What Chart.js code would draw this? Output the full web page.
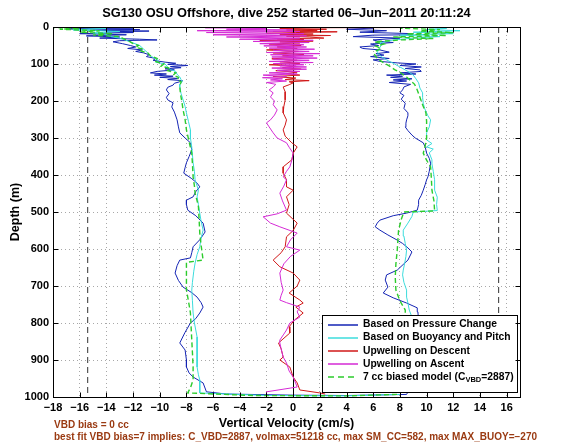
<!DOCTYPE html>
<html lang="en">
<head>
<meta charset="UTF-8">
<title>SG130 OSU Offshore, dive 252</title>
<style>
  html, body { margin: 0; padding: 0; background: #fff; }
  #wrap { width: 561px; height: 442px; }
</style>
</head>
<body>
<div id="wrap"><canvas id="myChart" width="561" height="442"></canvas></div>
<script src="https://cdn.jsdelivr.net/npm/chart.js"></script>
<script>
  // each pair is [depth (m), vertical velocity (cm/s)], descent then ascent
  const pressureChange = [
    [0,-16],[3,-12],[5,-17],[7,-11.5],[9,-15],[11,-10.8],[13,-14],[15,-12],[18,-16],[21,-12.5],
    [24,-15.5],[27,-13],[30,-14.5],[33,-11.5],[35,-10.2],[37,-13],[40,-13.5],[45,-12.8],[50,-12.2],
    [54,-11.8],[58,-12.4],[62,-11.3],[66,-11.8],[70,-11.2],[75,-10.8],[80,-11],[85,-10.3],[90,-10.5],
    [95,-9.6],[98,-8.8],[101,-9.4],[104,-7.9],[107,-9.2],[110,-8.4],[113,-9.6],[116,-8.9],[120,-10.2],
    [124,-10.7],[127,-9.5],[130,-10.4],[133,-9],[136,-10],[139,-8.6],[142,-9.4],[145,-8.3],[148,-8.5],
    [152,-8.9],[157,-9],[163,-9.4],[170,-9.5],[180,-9.3],[190,-9.5],[197,-9.4],[205,-9],[216,-9.1],
    [230,-8.9],[251,-8.7],[270,-8.6],[286,-8.5],[300,-8.1],[313,-7.7],[332,-7.6],[350,-7.8],[367,-8],
    [380,-8.1],[395,-8.2],[410,-7.6],[422,-7.2],[432,-7],[445,-7.3],[459,-7.5],[468,-8],[480,-8],
    [495,-7.9],[510,-7.3],[530,-6.75],[554,-6.6],[575,-7],[594,-7.5],[610,-7.6],[624,-7.7],[630,-8.5],
    [645,-8.7],[665,-8.85],[685,-8.6],[703,-8.25],[718,-7.6],[730,-7.2],[745,-6.9],[757,-6.75],[773,-7],
    [788,-7.3],[800,-7.7],[825,-8.1],[854,-8.5],[873,-8.1],[900,-8],[919,-8],[935,-7.8],[946,-7.5],
    [962,-6.75],[986,-6.5],[992,-5],[995,0],[996,4],[993,8.5],
    [960,9],[900,9.2],[850,9.3],[800,9.4],[770,9.35],[759,9.3],[746,8.5],[732,7.5],[719,6.75],
    [703,7.1],[684,6.9],[670,7],[657,7.8],[640,8.3],[630,8.6],[608,8.9],[597,8.6],[585,8.2],[576,7.8],
    [562,7.1],[549,6.5],[540,6.15],[530,6.3],[522,6.5],[510,7.5],[503,8.5],[495,9.3],[480,9.4],
    [468,9.4],[455,9.6],[441,9.75],[425,9.9],[413,10],[405,10.1],[390,10.2],[368,10.3],[355,10.2],
    [341,10],[325,9.9],[313,9.75],[300,9.15],[292,8.9],[280,8.6],[270,8.4],[260,8.45],[251,8.5],
    [240,8.6],[232,8.6],[220,8.3],[206,8.4],[195,8.1],[185,8.3],[178,8],[170,8.2],[162,8.3],[155,8.8],
    [150,7.2],[146,8.5],[143,7.5],[140,8.9],[136,7.3],[133,8.2],[130,7],[127,9.2],[124,8],[120,9.6],
    [116,9.5],[112,8.4],[108,9.6],[104,8],[100,9.2],[97,7.8],[93,6.5],[89,6],[85,7.2],[80,5.8],
    [76,6.8],[72,6.2],[68,7.2],[62,6.5],[58,5.2],[54,5],[50,6.4],[46,5.8],[42,7.5],[38,6.3],[35,6],
    [30,8],[26,4.5],[22,6],[21,8.9],[18,9],[14,5],[10,7],[6,4],[3,6],[0,5]
  ];
  const buoyancyPitch = [
    [0,-17.5],[4,-14],[8,-16.5],[12,-13],[16,-15],[20,-14],[25,-13.8],[30,-13],[35,-12.6],[43,-12],
    [50,-11.5],[60,-11.2],[70,-10.9],[80,-10.6],[90,-10.1],[95,-10.3],[100,-9.6],[108,-9.4],[115,-9.2],
    [120,-8.8],[128,-8.7],[135,-8.5],[142,-8.4],[148,-8.3],[155,-8.5],[162,-8.5],[180,-8.4],[197,-8.25],
    [215,-8.1],[232,-8],[255,-7.85],[278,-7.7],[300,-7.7],[324,-7.6],[345,-7.55],[367,-7.5],[390,-7.4],
    [413,-7.35],[441,-7.1],[459,-7.2],[480,-7.1],[503,-7],[525,-6.9],[549,-6.75],[570,-6.9],[594,-7],
    [615,-7.2],[638,-7.35],[660,-7.45],[690,-7.55],[711,-7.6],[740,-7.55],[773,-7.5],[800,-7.4],
    [838,-7.2],[870,-7.2],[919,-7.2],[940,-7.1],[954,-7],[975,-7],[989,-7],[996,-2],[997,4],[993,8],
    [960,8.6],[900,8.7],[850,8.8],[800,8.9],[784,8.9],[765,8.7],[746,8.6],[730,8.5],[711,8.5],[690,8.3],
    [670,8.2],[657,8.25],[640,8.35],[620,8.45],[603,8.5],[585,8.4],[565,8.3],[549,8.25],[530,8.6],
    [512,8.9],[500,9],[496,10.8],[480,10.75],[460,10.8],[441,10.6],[413,10.6],[390,10.5],[370,10.4],
    [359,10.4],[340,10.2],[330,10.5],[324,10],[315,10.4],[305,10],[286,10],[270,10.2],[251,10.3],
    [240,10.1],[232,10],[220,9.85],[206,9.75],[190,9.7],[178,9.7],[165,9.5],[151,9.4],[140,9.2],
    [130,9],[120,8.6],[108,8],[98,7.5],[89,7],[80,6.6],[70,6.3],[60,6.4],[50,6.6],[43,6.5],[35,7.5],
    [30,9],[26,11],[22,8],[18,12],[14,9],[10,12.5],[7,10],[4,11.5],[0,9]
  ];
  const upwellDescent = [
    [0,0],[0.6,19],[2,1],[4,-1],[6,2.5],[8,-0.5],[10,1.8],[12,-1.5],[13,3.3],[15,0.2],[17,-2],[19,1.5],
    [21,-1],[23,2.8],[25,-0.5],[27,1.2],[30,2.3],[32,-1.2],[34,0.8],[36,-2.5],[38,1.5],[40,-1],
    [43,0.5],[46,-1.8],[50,0.6],[54,-1.2],[58,0.3],[62,-2],[66,0.4],[70,-1.5],[74,0.8],[78,-0.8],
    [82,0.2],[86,-1.6],[90,0.3],[94,-1],[98,0.5],[102,-1.8],[106,0.2],[110,-0.8],[114,0.6],[118,-1.3],
    [122,0.3],[126,-0.5],[130,0.5],[134,-1.5],[138,0.2],[142,-0.6],[145,1.2],[148,-0.3],[151,0],
    [156,-0.3],[162,-0.75],[175,-0.6],[197,-0.6],[215,-0.7],[232,-0.75],[251,-0.5],[265,-0.6],
    [278,-0.75],[295,-0.6],[313,-0.1],[324,0.3],[341,0],[359,-0.1],[378,-0.75],[395,-0.75],[413,-0.5],
    [432,-0.5],[441,0],[459,-0.5],[480,-0.3],[503,-0.5],[530,0.3],[550,0],[567,-0.5],[594,-0.6],
    [610,-0.9],[630,-1.5],[648,-1],[665,0],[684,0.5],[700,0.3],[719,-0.3],[738,0.5],[746,0.75],
    [757,0.2],[773,0.75],[792,0.1],[810,-0.3],[827,-0.25],[854,-1.1],[870,-0.9],[892,-0.75],[900,-1],
    [919,-0.25],[946,0],[962,0.3],[981,0.5],[989,2],[992,2.4]
  ];
  const upwellAscent = [
    [990,-2],[986,-2],[973,0.3],[946,0],[930,-0.3],[908,-0.5],[892,-0.75],[870,-0.9],[854,-1],
    [846,-1],[830,-0.7],[819,-0.5],[800,-0.25],[784,0.5],[770,0.3],[757,0.5],[745,-0.5],[738,-1],
    [725,-0.9],[711,-0.75],[690,-0.9],[665,-1],[640,-0.7],[620,-0.2],[603,0.5],[594,-0.5],[575,-0.2],
    [557,0.3],[540,-1],[530,-1.7],[513,-2.25],[505,-1.2],[495,-0.5],[470,-0.8],[449,-1],[430,-0.7],
    [413,-0.5],[405,-0.75],[390,-0.5],[378,-0.25],[360,-0.1],[341,0],[325,-0.3],[313,-0.5],[300,-1.2],
    [286,-1.5],[270,-1.8],[259,-2],[251,-1.7],[238,-1.4],[224,-1.2],[210,-1.5],[200,-1.4],[189,-1.7],
    [178,-1.5],[170,-1.8],[162,-1.5],[155,-1.3],[150,-2],[146,-0.5],[143,-1.7],[140,-0.8],[137,-2.3],
    [134,-0.5],[130,-2.25],[127,0.3],[124,-1.8],[120,0.5],[117,-1.2],[114,1],[111,-1.6],[108,1],
    [105,-1],[102,0.8],[99,-1.5],[96,1.5],[93,-1.8],[90,1.2],[87,-1.5],[84,1.8],[81,-1.6],[78,1.5],
    [75,-1.7],[72,2],[69,-2],[66,1.2],[63,-1.5],[60,1.6],[57,-1.8],[54,1],[51,-2.2],[48,0.8],[45,-2.5],
    [42,1.2],[39,-3],[36,1.5],[33,-4],[30,0.5],[27,-5],[24,1],[21,-6],[18,0.8],[15,-6.5],[12,0.5],
    [10,-7.2],[8,0],[6,-5],[4,-2],[2,-6.6],[0,-1]
  ];
  const biasedModel = [
    [0,0],[0.5,-19],[3,-16],[6,-17.5],[10,-14.5],[14,-16],[18,-13.5],[22,-15],[26,-13],[30,-12.8],
    [35,-12.5],[40,-12.2],[45,-12],[50,-11.6],[55,-11.8],[60,-11.2],[65,-11.4],[70,-10.9],[78,-10.7],
    [85,-10.2],[92,-10.4],[100,-9.7],[106,-9.9],[112,-9.2],[118,-9.4],[124,-8.8],[130,-9],[136,-8.6],
    [142,-8.7],[148,-8.4],[160,-8.5],[180,-8.45],[200,-8.35],[224,-8.25],[250,-8.1],[278,-8],
    [310,-7.8],[341,-7.6],[370,-7.55],[405,-7.5],[430,-7.4],[449,-7.35],[470,-7.2],[486,-7.1],
    [520,-7.05],[557,-7],[590,-6.9],[630,-6.75],[636,-8],[680,-8],[711,-8],[740,-7.85],[773,-7.7],
    [810,-7.65],[846,-7.6],[880,-7.55],[919,-7.5],[954,-7.5],[975,-7.7],[989,-7.9],[996,-3],[997,4],
    [993,7.8],[960,8.2],[900,8.3],[850,8.4],[800,8.4],[765,8.4],[740,8],[711,7.7],[676,7.65],[640,7.7],
    [603,7.8],[575,7.85],[549,7.9],[520,8.1],[500,8.3],[497,10.6],[470,10.55],[441,10.4],[405,10.35],
    [378,10.3],[360,10],[341,9.75],[320,9.9],[300,10],[278,10],[255,10],[232,9.95],[210,9.7],[190,9.5],
    [170,9.3],[155,9.1],[145,8.8],[135,8.5],[125,8.1],[115,7.6],[105,7.2],[95,6.7],[85,6.3],[75,6.1],
    [65,6.2],[58,6.6],[52,6.2],[46,6.8],[40,6.1],[35,8],[31,10.5],[27,7.5],[23,11.5],[19,8.5],[15,12],
    [11,9.5],[7,11],[3,8],[0,10]
  ];

  const seriesNames = ['Based on Pressure Change', 'Based on Buoyancy and Pitch', 'Upwelling on Descent',
    'Upwelling on Ascent', '7 cc biased model (C'];
  const seriesColors = ['#1424b4', '#3cdcdc', '#d01818', '#d52ad5', '#2ccc2c'];
  const xTicks = [-18, -16, -14, -12, -10, -8, -6, -4, -2, 0, 2, 4, 6, 8, 10, 12, 14, 16];
  const yTicks = [0, 100, 200, 300, 400, 500, 600, 700, 800, 900, 1000];
  const limitLines = [-15.4, 15.4];
  const zeroVelocity = 0;
  const titleText = 'SG130 OSU Offshore, dive 252 started 06\u2013Jun\u20132011 20:11:24';
  const noteLines = ['VBD bias = 0 cc',
    'best fit VBD bias=7 implies: C_VBD=2887, volmax=51218 cc, max SM_CC=582, max MAX_BUOY=\u2212270'];

  function toPoints(pairs) {
    return pairs.map(p => ({ x: p[1], y: p[0] }));
  }

  const profiles = [pressureChange, buoyancyPitch, upwellDescent, upwellAscent, biasedModel];
  const datasets = profiles.map((pairs, i) => ({
    label: seriesNames[i],
    data: toPoints(pairs),
    showLine: true,
    pointRadius: 0,
    borderWidth: i === 4 ? 1.4 : 1,
    borderColor: seriesColors[i],
    borderDash: i === 4 ? [5, 3] : [],
    order: 5 - i
  }));
  limitLines.forEach(v => datasets.push({
    label: '',
    data: [{ x: v, y: 0 }, { x: v, y: 1000 }],
    showLine: true, pointRadius: 0, borderWidth: 1, borderColor: '#333',
    borderDash: [6, 4], order: 10
  }));

  function fmt(v) {
    return v < 0 ? '\u2212' + Math.abs(v) : String(v);
  }

  const frame = {
    id: 'frame',
    beforeDatasetsDraw(chart) {
      // thin zero-velocity reference line, snapped to a pixel so it stays crisp
      const { ctx, chartArea: a, scales: { x } } = chart;
      const px = Math.round(x.getPixelForValue(zeroVelocity)) + 0.5;
      ctx.save();
      ctx.strokeStyle = '#000';
      ctx.lineWidth = 1;
      ctx.beginPath();
      ctx.moveTo(px, a.top);
      ctx.lineTo(px, a.bottom);
      ctx.stroke();
      ctx.restore();
    },
    afterDatasetsDraw(chart) {
      const { ctx, chartArea: a, scales: { x, y } } = chart;
      ctx.save();
      // legend box
      const lw = 195, lh = 77;
      const lx = Math.round(a.right) - 3 - lw, ly = Math.round(a.bottom) - 5 - lh;
      ctx.fillStyle = '#fff';
      ctx.fillRect(lx, ly, lw, lh);
      ctx.strokeStyle = '#000';
      ctx.lineWidth = 1;
      ctx.strokeRect(lx + 0.5, ly + 0.5, lw, lh);
      ctx.font = 'bold 10.3px "Liberation Sans", Arial, sans-serif';
      ctx.textBaseline = 'middle';
      ctx.textAlign = 'left';
      seriesNames.forEach((name, i) => {
        const ry = ly + 9.5 + i * 13.1;
        ctx.strokeStyle = seriesColors[i];
        ctx.lineWidth = 1.5;
        ctx.setLineDash(i === 4 ? [6, 4] : []);
        ctx.beginPath();
        ctx.moveTo(lx + 6, Math.round(ry));
        ctx.lineTo(lx + 36, Math.round(ry));
        ctx.stroke();
        ctx.setLineDash([]);
        ctx.fillStyle = '#000';
        let tx = lx + 41;
        ctx.fillText(name, tx, ry);
        if (i === 4) {
          tx += ctx.measureText(name).width;
          ctx.font = 'bold 7.5px "Liberation Sans", Arial, sans-serif';
          ctx.fillText('VBD', tx, ry + 3);
          tx += ctx.measureText('VBD').width;
          ctx.font = 'bold 10.3px "Liberation Sans", Arial, sans-serif';
          ctx.fillText('=2887)', tx, ry);
        }
      });
      // axes box and inward ticks
      ctx.strokeStyle = '#000';
      ctx.lineWidth = 1;
      const L = Math.round(a.left) + 0.5, R = Math.round(a.right) + 0.5;
      const T = Math.round(a.top) + 0.5, B = Math.round(a.bottom) + 0.5;
      ctx.strokeRect(L, T, R - L, B - T);
      ctx.beginPath();
      xTicks.forEach(v => {
        const px = Math.round(x.getPixelForValue(v)) + 0.5;
        ctx.moveTo(px, B); ctx.lineTo(px, B - 5);
        ctx.moveTo(px, T); ctx.lineTo(px, T + 5);
      });
      yTicks.forEach(v => {
        const py = Math.round(y.getPixelForValue(v)) + 0.5;
        ctx.moveTo(L, py); ctx.lineTo(L + 5, py);
        ctx.moveTo(R, py); ctx.lineTo(R - 5, py);
      });
      ctx.stroke();
      ctx.restore();
    },
    afterDraw(chart) {
      const { ctx, chartArea: a } = chart;
      ctx.save();
      ctx.fillStyle = '#000';
      ctx.textBaseline = 'middle';
      ctx.textAlign = 'center';
      ctx.font = 'bold 12.8px "Liberation Sans", Arial, sans-serif';
      ctx.fillText(titleText, (a.left + a.right) / 2, 13);
      ctx.textAlign = 'left';
      ctx.fillStyle = '#9a3a12';
      ctx.font = 'bold 10px "Liberation Sans", Arial, sans-serif';
      ctx.fillText(noteLines[0], 54, 425);
      ctx.fillText(noteLines[1], 54, 437);
      ctx.restore();
    }
  };

  const ctx = document.getElementById('myChart');
  const myChart = new Chart(ctx, {
    type: 'scatter',
    data: { datasets: datasets },
    options: {
      responsive: false,
      devicePixelRatio: 1,
      animation: false,
      events: [],
      layout: { padding: { top: 27, right: 41, left: 0, bottom: 0 } },
      plugins: { legend: { display: false }, tooltip: { enabled: false }, title: { display: false } },
      scales: {
        x: {
          type: 'linear',
          min: -18, max: 17,
          afterBuildTicks: s => { s.ticks = xTicks.map(v => ({ value: v })); },
          afterFit: s => { s.height = 45; },
          grid: { color: '#a8a8a8', drawTicks: false },
          border: { display: false, dash: [1, 3] },
          ticks: {
            padding: 4, color: '#000', maxRotation: 0, autoSkip: false,
            font: { family: '"Liberation Sans", Arial, sans-serif', size: 11, weight: 'bold' },
            callback: v => fmt(v)
          },
          title: {
            display: true, text: 'Vertical Velocity (cm/s)', color: '#000',
            padding: { top: 0, bottom: 11 },
            font: { family: '"Liberation Sans", Arial, sans-serif', size: 12.5, weight: 'bold' }
          }
        },
        y: {
          type: 'linear',
          reverse: true,
          min: 0, max: 1000,
          afterBuildTicks: s => { s.ticks = yTicks.map(v => ({ value: v })); },
          afterFit: s => { s.width = 53; },
          grid: { color: '#a8a8a8', drawTicks: false },
          border: { display: false, dash: [1, 3] },
          ticks: {
            padding: 4, color: '#000', autoSkip: false,
            font: { family: '"Liberation Sans", Arial, sans-serif', size: 11, weight: 'bold' },
            callback: v => fmt(v)
          },
          title: {
            display: true, text: 'Depth (m)', color: '#000',
            padding: { top: 8, bottom: 0 },
            font: { family: '"Liberation Sans", Arial, sans-serif', size: 12.5, weight: 'bold' }
          }
        }
      }
    },
    plugins: [frame]
  });
</script>
</body>
</html>
